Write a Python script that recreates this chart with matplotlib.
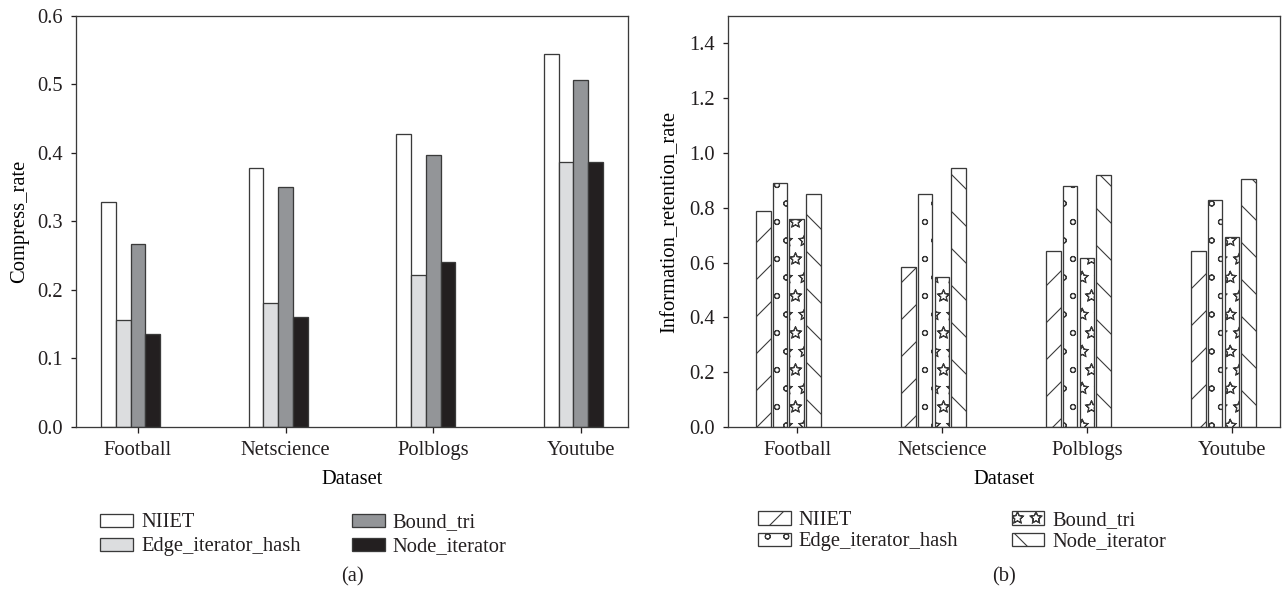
import numpy as np
import matplotlib
matplotlib.use('Agg')
import matplotlib.pyplot as plt
from matplotlib import rcParams
from matplotlib import hatch as mhatch

# Hatch tiles are one inch wide in device pixels, so the dpi sets the hatch spacing
DPI = 111
PX = 72 / DPI  # one pixel in points

# open stars and small dots for the hatch fills
mhatch.Stars.filled = False
mhatch.SmallCircles.size = 0.14

rcParams['font.family'] = 'serif'
rcParams['font.serif'] = ['Liberation Serif', 'DejaVu Serif']
rcParams['font.size'] = 20.5 * PX
rcParams['axes.linewidth'] = 1.3 * PX
rcParams['axes.edgecolor'] = '#3a3a3a'
rcParams['hatch.linewidth'] = 1.1 * PX
rcParams['hatch.color'] = '#2b2b2b'
rcParams['xtick.major.size'] = 6 * PX
rcParams['ytick.major.size'] = 5 * PX
rcParams['xtick.major.width'] = 1.3 * PX
rcParams['ytick.major.width'] = 1.3 * PX
rcParams['xtick.major.pad'] = 8 * PX
rcParams['ytick.major.pad'] = 8 * PX
rcParams['text.color'] = '#231f20'
rcParams['xtick.color'] = '#231f20'
rcParams['ytick.color'] = '#231f20'

datasets = ['Football', 'Netscience', 'Polblogs', 'Youtube']
methods = ['NIIET', 'Edge_iterator_hash', 'Bound_tri', 'Node_iterator']

# Compress rate per method
niiet_cr = [0.328, 0.378, 0.428, 0.545]
edge_hash_cr = [0.156, 0.181, 0.222, 0.387]
bound_tri_cr = [0.267, 0.350, 0.397, 0.507]
node_iter_cr = [0.136, 0.161, 0.241, 0.387]

# Information retention rate per method
niiet_irr = [0.787, 0.585, 0.642, 0.644]
edge_hash_irr = [0.889, 0.850, 0.879, 0.827]
bound_tri_irr = [0.759, 0.549, 0.615, 0.695]
node_iter_irr = [0.850, 0.945, 0.921, 0.904]

fills = ['white', '#dcdddf', '#939598', '#231f20']
hatches = ['/', 'o', '*', '\\']
edge = '#3a3a3a'

fig = plt.figure(figsize=(1282 / DPI, 595 / DPI), dpi=DPI)
ax1 = fig.add_axes([0.0593, 0.2824, 0.4306, 0.6907])
ax2 = fig.add_axes([0.5679, 0.2824, 0.4306, 0.6907])

x = np.arange(len(datasets))

# (a) compress rate
w = 0.1
for i, vals in enumerate([niiet_cr, edge_hash_cr, bound_tri_cr, node_iter_cr]):
    ax1.bar(x - 0.05 + (i - 1.5) * w, vals, w, color=fills[i], edgecolor=edge,
            linewidth=1.3 * PX, label=methods[i])
ax1.set_xlim(-0.42, 3.32)
ax1.set_ylim(0, 0.6)
ax1.set_yticks(np.arange(0, 0.61, 0.1))
ax1.yaxis.set_major_formatter(plt.FormatStrFormatter('%.1f'))
ax1.set_xticks(x)
ax1.set_xticklabels(datasets)
ax1.set_xlabel('Dataset', labelpad=10 * PX)
ax1.set_ylabel('Compress_rate', labelpad=8 * PX)
ax1.legend(loc='upper left', bbox_to_anchor=(0.0437, -0.21), ncol=2, frameon=False,
           handlelength=1.6, handleheight=0.6, handletextpad=0.4,
           columnspacing=2.5, labelspacing=0.25, borderaxespad=0, borderpad=0)

# (b) information retention rate
w2, step = 0.1, 0.115
for i, vals in enumerate([niiet_irr, edge_hash_irr, bound_tri_irr, node_iter_irr]):
    ax2.bar(x - 0.06 + (i - 1.5) * step, vals, w2, color='white', edgecolor=edge,
            hatch=hatches[i], linewidth=1.3 * PX, label=methods[i])
ax2.set_xlim(-0.476, 3.33)
ax2.set_ylim(0, 1.5)
ax2.set_yticks(np.arange(0, 1.41, 0.2))
ax2.yaxis.set_major_formatter(plt.FormatStrFormatter('%.1f'))
ax2.set_xticks(x)
ax2.set_xticklabels(datasets)
ax2.set_xlabel('Dataset', labelpad=10 * PX)
ax2.set_ylabel('Information_retention_rate', labelpad=10 * PX)
ax2.legend(loc='upper left', bbox_to_anchor=(0.054, -0.205), ncol=2, frameon=False,
           handlelength=1.6, handleheight=0.6, handletextpad=0.4,
           columnspacing=2.6, labelspacing=0.1, borderaxespad=0, borderpad=0)

for ax in (ax1, ax2):
    ax.tick_params(direction='out')

fig.text(0.2746, 0.030, '(a)', ha='center', va='center')
fig.text(0.7832, 0.030, '(b)', ha='center', va='center')

fig.savefig('out.png', dpi=DPI)
